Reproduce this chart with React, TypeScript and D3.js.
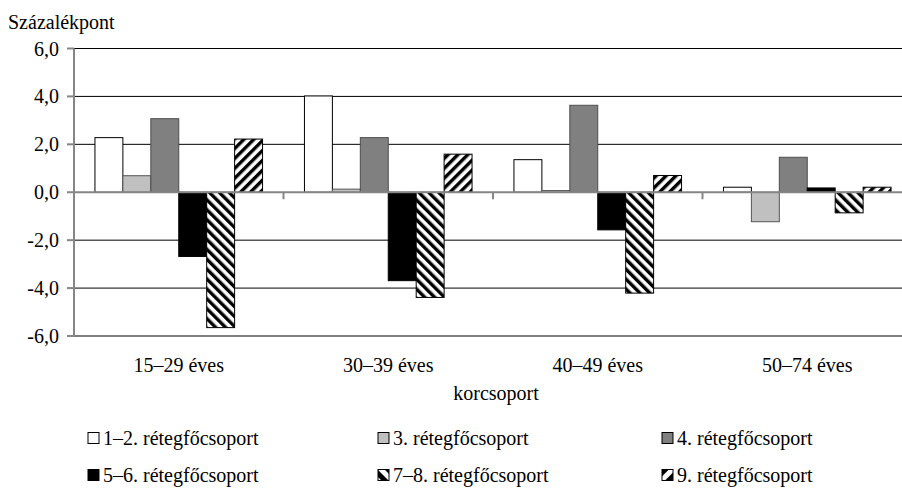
import React from "react";
import * as d3 from "d3";

const categories = ["15–29 éves", "30–39 éves", "40–49 éves", "50–74 éves"];
const seriesNames = [
  "1–2. rétegfőcsoport",
  "3. rétegfőcsoport",
  "4. rétegfőcsoport",
  "5–6. rétegfőcsoport",
  "7–8. rétegfőcsoport",
  "9. rétegfőcsoport",
];
const s12 = [2.28, 4.02, 1.36, 0.21];
const s3 = [0.69, 0.13, 0.07, -1.23];
const s4 = [3.07, 2.28, 3.63, 1.46];
const s56 = [-2.68, -3.69, -1.57, 0.18];
const s78 = [-5.65, -4.39, -4.21, -0.86];
const s9 = [2.22, 1.59, 0.7, 0.21];
const seriesValues = [s12, s3, s4, s56, s78, s9];
const yTicks = [-6, -4, -2, 0, 2, 4, 6];

const fills = ["#ffffff", "#c0c0c0", "#808080", "#000000", "url(#hatchBack)", "url(#hatchFwd)"];
const legendFills = ["#ffffff", "#c0c0c0", "#808080", "#000000", "url(#legBack)", "url(#legFwd)"];

const FONT =
  '"Liberation Serif", "Times New Roman", Tinos, "Noto Serif", "DejaVu Serif", FreeSerif, "Nimbus Roman", "Noto Serif CJK SC", serif';

export default function App() {
  const W = 902;
  const H = 494;
  const x0 = d3.scaleBand<string>().domain(categories).range([74, 912]);
  const x1 = d3
    .scaleBand<string>()
    .domain(seriesNames)
    .range([0, x0.bandwidth()])
    .paddingInner(0)
    .paddingOuter(0.75);
  const y = d3.scaleLinear().domain([-6, 6]).range([336, 48.5]);
  const fmt = (v: number) => d3.format(".1f")(v).replace(".", ",").replace("−", "-");

  const legendCols = [88, 378, 662];
  const legendRows = [438, 475];
  const ts: React.CSSProperties = { fontFamily: FONT, fontSize: "20px" };

  return (
    <svg width={W} height={H} style={{ position: "absolute", left: 0, top: 0, background: "#fff" }}>
      <defs>
        <pattern id="hatchBack" patternUnits="userSpaceOnUse" width="7" height="7" patternTransform="rotate(-45)">
          <rect x="0" y="0" width="7" height="7" fill="#fff" />
          <rect x="0" y="0" width="3.4" height="7" fill="#000" />
        </pattern>
        <pattern id="hatchFwd" patternUnits="userSpaceOnUse" width="7" height="7" patternTransform="rotate(45)">
          <rect x="0" y="0" width="7" height="7" fill="#fff" />
          <rect x="0" y="0" width="3.4" height="7" fill="#000" />
        </pattern>
        <pattern id="legBack" patternUnits="userSpaceOnUse" width="10" height="10" patternTransform="rotate(-45)">
          <rect x="0" y="0" width="10" height="10" fill="#fff" />
          <rect x="0" y="0" width="5" height="10" fill="#000" />
        </pattern>
        <pattern id="legFwd" patternUnits="userSpaceOnUse" width="10" height="10" patternTransform="rotate(45)">
          <rect x="0" y="0" width="10" height="10" fill="#fff" />
          <rect x="0" y="0" width="5" height="10" fill="#000" />
        </pattern>
      </defs>
      <rect x={0} y={0} width={W} height={H} fill="#fff" />

      {yTicks
        .filter((t) => t !== 0)
        .map((t) => (
          <line key={"g" + t} x1={74} x2={912} y1={y(t)} y2={y(t)} stroke="#000" strokeWidth={1} />
        ))}

      {categories.map((c, ci) => (
        <g key={c} transform={`translate(${x0(c)},0)`}>
          {seriesNames.map((s, si) => {
            const v = seriesValues[si][ci];
            const top = y(Math.max(0, v));
            const h = Math.abs(y(v) - y(0));
            return (
              <rect
                key={s}
                x={x1(s)}
                y={top}
                width={x1.bandwidth()}
                height={h}
                fill={fills[si]}
                stroke={si === 2 ? "#4d4d4d" : si === 1 ? "#555" : "#000"}
                strokeWidth={1}
              />
            );
          })}
        </g>
      ))}

      <line x1={74} x2={912} y1={y(0)} y2={y(0)} stroke="#868686" strokeWidth={2} />
      {categories.map((c, i) => (
        <line key={"ct" + i} x1={x0(c)!} x2={x0(c)!} y1={y(0)} y2={y(0) + 7} stroke="#868686" strokeWidth={2} />
      ))}

      <line x1={74} x2={74} y1={y(6)} y2={y(-6)} stroke="#868686" strokeWidth={2} />
      {yTicks.map((t) => (
        <g key={"t" + t}>
          <line x1={67} x2={74} y1={y(t)} y2={y(t)} stroke="#868686" strokeWidth={2} />
          <text x={59} y={y(t)} dy="0.35em" textAnchor="end" style={ts} fill="#000">
            {fmt(t)}
          </text>
        </g>
      ))}

      <text x={8} y={29} style={ts} fill="#000">
        Százalékpont
      </text>

      {categories.map((c) => (
        <text
          key={"cl" + c}
          x={x0(c)! + x0.bandwidth() / 2}
          y={372}
          textAnchor="middle"
          style={ts}
          fill="#000"
        >
          {c}
        </text>
      ))}
      <text x={496} y={400} textAnchor="middle" style={ts} fill="#000">
        korcsoport
      </text>

      {seriesNames.map((s, i) => {
        const col = i % 3;
        const row = Math.floor(i / 3);
        const lx = legendCols[col];
        const ly = legendRows[row];
        return (
          <g key={"l" + s}>
            <rect x={lx} y={ly - 5.5} width={11} height={11} fill={legendFills[i]} stroke="#000" strokeWidth={1} />
            <text x={lx + 15} y={ly} dy="0.35em" style={ts} fill="#000">
              {s}
            </text>
          </g>
        );
      })}
    </svg>
  );
}
